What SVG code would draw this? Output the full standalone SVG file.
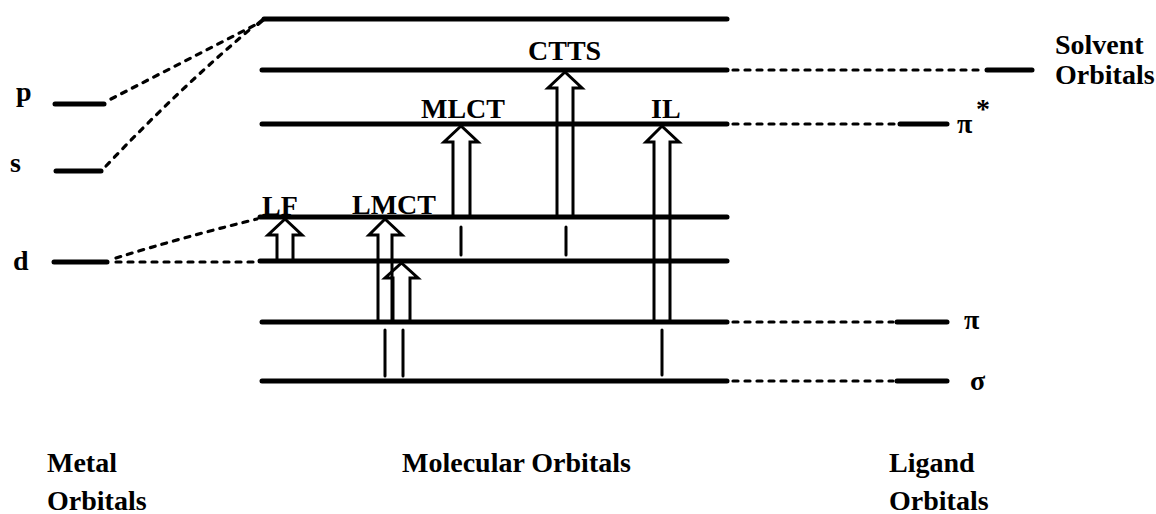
<svg xmlns="http://www.w3.org/2000/svg" width="1156" height="514" viewBox="0 0 1156 514">
<style>
.lv{stroke:#000;stroke-width:5;stroke-linecap:round;fill:none}
.dl{stroke:#000;stroke-width:3.2;stroke-linecap:round;stroke-dasharray:5 7;fill:none}
.ar{stroke:#000;stroke-width:3;fill:none;stroke-linejoin:miter}
.tk{stroke:#000;stroke-width:3;stroke-linecap:round}
.t{font-family:"Liberation Serif","Times New Roman",serif;font-weight:bold;font-size:28px;fill:#000}
</style>
<rect width="1156" height="514" fill="#fff"/>
<g id="metal-levels">
<line class="lv" x1="55" y1="104" x2="104" y2="104"/>
<line class="lv" x1="56" y1="171" x2="101" y2="171"/>
<line class="lv" x1="54" y1="262" x2="107" y2="262"/>
<text class="t" x="16" y="101">p</text>
<text class="t" x="10" y="172">s</text>
<text class="t" x="13" y="270">d</text>
</g>
<g id="mo-levels">
<line class="lv" x1="264" y1="19" x2="727" y2="19"/>
<line class="lv" x1="262" y1="70" x2="727" y2="70"/>
<line class="lv" x1="262" y1="124" x2="727" y2="124"/>
<line class="lv" x1="260" y1="217" x2="727" y2="217"/>
<line class="lv" x1="260" y1="261" x2="727" y2="261"/>
<line class="lv" x1="262" y1="322" x2="727" y2="322"/>
<line class="lv" x1="262" y1="381" x2="727" y2="381"/>
</g>
<g id="ligand-levels">
<line class="lv" x1="987" y1="70" x2="1032" y2="70"/>
<line class="lv" x1="900" y1="124" x2="947" y2="124"/>
<line class="lv" x1="897" y1="322" x2="947" y2="322"/>
<line class="lv" x1="897" y1="381" x2="947" y2="381"/>
<text class="t" x="957" y="133">π</text>
<text class="t" x="976" y="118" font-size="17">*</text>
<text class="t" x="964" y="329">π</text>
<text class="t" x="970" y="390">σ</text>
</g>
<g id="connectors">
<path class="dl" d="M111,99 L257,24"/>
<path class="dl" d="M106,166 Q180,88 254,26"/>
<path class="dl" d="M258,24 L264,19" style="stroke-dasharray:none;stroke-width:4"/>
<path class="dl" d="M116,258 Q180,238 257,219"/>
<path class="dl" d="M116,262 H258"/>
<path class="dl" d="M733,70 H983"/>
<path class="dl" d="M733,124 H896"/>
<path class="dl" d="M733,322 H893"/>
<path class="dl" d="M733,381 H893"/>
</g>
<g id="transitions">
<path class="ar" d="M277,261 V235 H268 L285,219 L302,235 H293 V261"/>
<path class="ar" d="M378,322 V235 H369 L385,219 L402,235 H392 V322"/>
<path class="ar" d="M393,322 V278 H385 L401.5,263 L418,278 H410 V322"/>
<path class="ar" d="M453,217 V142 H444 L461,126 L478,142 H470 V217"/>
<path class="ar" d="M557,217 V88 H548 L565,72 L582,88 H573 V217"/>
<path class="ar" d="M654,322 V142 H646 L662,126 L679,142 H670 V322"/>
<line class="tk" x1="461" y1="227" x2="461" y2="255"/>
<line class="tk" x1="566" y1="227" x2="566" y2="255"/>
<line class="tk" x1="385" y1="330" x2="385" y2="376"/>
<line class="tk" x1="403" y1="330" x2="403" y2="376"/>
<line class="tk" x1="662" y1="330" x2="662" y2="375"/>
</g>
<g id="labels">
<text class="t" x="262" y="215">LF</text>
<text class="t" x="352" y="214">LMCT</text>
<text class="t" x="421" y="118">MLCT</text>
<text class="t" x="528" y="60">CTTS</text>
<text class="t" x="651" y="118">IL</text>
<text class="t" x="1055" y="54" font-size="26">Solvent</text>
<text class="t" x="1055" y="84" font-size="26">Orbitals</text>
<text class="t" x="47" y="472">Metal</text>
<text class="t" x="47" y="510">Orbitals</text>
<text class="t" x="402" y="472">Molecular Orbitals</text>
<text class="t" x="889" y="472">Ligand</text>
<text class="t" x="889" y="510">Orbitals</text>
</g>
</svg>
